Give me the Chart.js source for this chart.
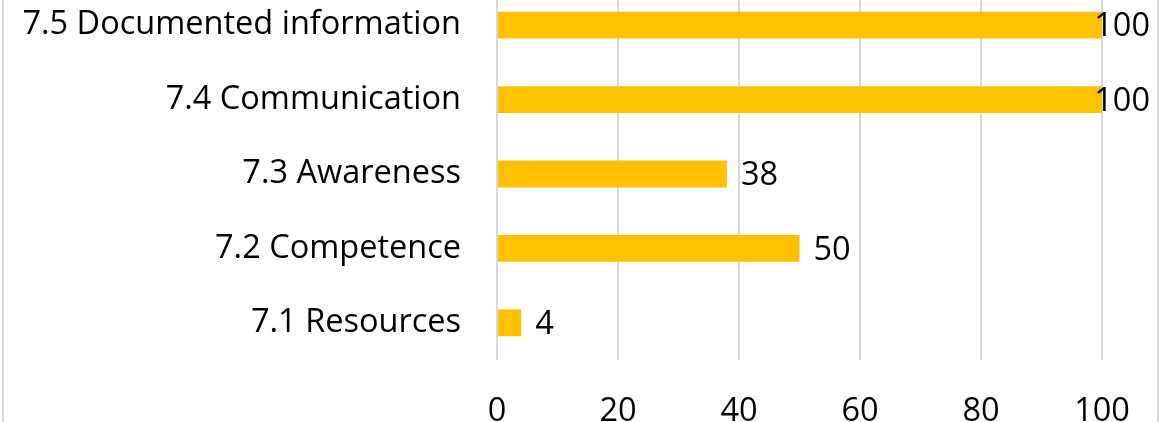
<!DOCTYPE html>
<html>
<head>
<meta charset="utf-8">
<script src="https://cdn.jsdelivr.net/npm/chart.js@4.4.1/dist/chart.umd.min.js"></script>
<style>
  html, body { margin: 0; padding: 0; background: #fff; overflow: hidden; }
  #rahmen {
    position: absolute; left: 2px; top: -12px;
    width: 1153px; height: 460px;
    border-left: 2px solid #d9d9d9; border-right: 2px solid #d9d9d9;
  }
  #myBarChart { display: block; }
</style>
</head>
<body>
<div id="rahmen"><canvas id="myBarChart" width="1153" height="460"></canvas></div>
<script>
// Daten
const kategorien = ['7.5 Documented information', '7.4 Communication', '7.3 Awareness', '7.2 Competence', '7.1 Resources'];
const werte = [100, 100, 38, 50, 4];
const xTicks = [0, 20, 40, 60, 80, 100];

const schrift = "'Open Sans', sans-serif";
const groesse = 32.5;

// Werte rechts neben den Balken
const wertLabels = {
  id: 'wertLabels',
  afterDatasetsDraw(chart) {
    const ctx = chart.ctx;
    const meta = chart.getDatasetMeta(0);
    ctx.save();
    ctx.font = groesse + 'px ' + schrift;
    ctx.fillStyle = '#000';
    ctx.textBaseline = 'middle';
    ctx.textAlign = 'left';
    meta.data.forEach((bar, i) => {
      const txt = String(werte[i]);
      const w = ctx.measureText(txt).width;
      let x = bar.x + 14;
      const maxRechts = chart.width - 7;
      if (x + w > maxRechts) x = maxRechts - w;
      ctx.fillText(txt, x, bar.y + 2);
    });
    ctx.restore();
  }
};

const ctx = document.querySelector('#myBarChart');

const chart = new Chart(ctx, {
  type: 'bar',
  data: {
    labels: kategorien,
    datasets: [{
      data: werte,
      backgroundColor: '#FFC000',
      borderWidth: 0,
      categoryPercentage: 1,
      barPercentage: 0.36
    }]
  },
  options: {
    indexAxis: 'y',
    responsive: false,
    animation: false,
    layout: { padding: { left: 0, right: 55, top: 0, bottom: 0 } },
    plugins: {
      legend: { display: false },
      tooltip: { enabled: false }
    },
    scales: {
      x: {
        min: 0,
        max: 100,
        afterBuildTicks: (s) => { s.ticks = xTicks.map(v => ({ value: v })); },
        afterFit: (s) => { s.height = 88; s.paddingLeft = 0; s.paddingRight = 0; },
        grid: { color: '#d9d9d9', lineWidth: 2, drawTicks: false },
        border: { display: false },
        ticks: {
          padding: 32,
          color: '#000',
          font: { family: schrift, size: groesse },
          maxRotation: 0
        }
      },
      y: {
        afterFit: (s) => { s.width = 493; s.paddingTop = 0; s.paddingBottom = 0; },
        grid: { display: false, drawTicks: false },
        border: { display: false },
        ticks: {
          padding: 36,
          color: '#000',
          font: { family: schrift, size: groesse }
        }
      }
    }
  },
  plugins: [wertLabels]
});
</script>
</body>
</html>
